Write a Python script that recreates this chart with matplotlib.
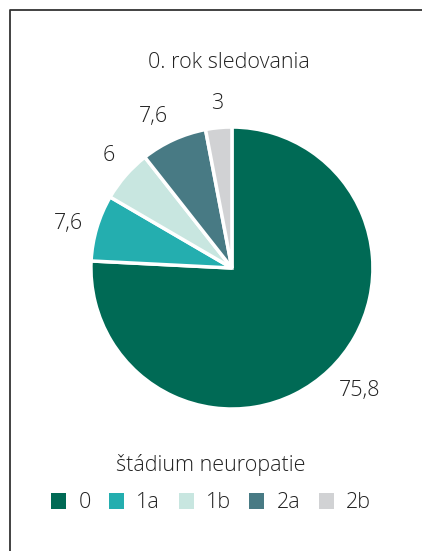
import matplotlib
matplotlib.use('Agg')
import matplotlib.pyplot as plt
import numpy as np
from matplotlib.lines import Line2D
from matplotlib.patches import Patch

plt.rcParams['font.family'] = ['Open Sans', 'DejaVu Sans']

stages = ['0', '1a', '1b', '2a', '2b']
values = [75.8, 7.6, 6, 7.6, 3]
value_labels = ['75,8', '7,6', '6', '7,6', '3']
colors = ['#006a55', '#24aeaf', '#c8e6e0', '#487a84', '#d1d2d4']

fs = 15.5
txt_color = '#222222'

fig = plt.figure(figsize=(4.22, 5.51), dpi=100)
ax = fig.add_axes([0, 0, 1, 1])

wedges, texts = ax.pie(values, colors=colors, startangle=90, counterclock=False,
                       labels=value_labels, labeldistance=1.1,
                       wedgeprops=dict(edgecolor='white', linewidth=2.5),
                       textprops=dict(fontsize=fs, color=txt_color, fontweight='light'))

# anchor each label by its nearest corner, like "outside end" labels
for w, t in zip(wedges, texts):
    ang = np.deg2rad((w.theta1 + w.theta2) / 2)
    c, s = np.cos(ang), np.sin(ang)
    t.set_ha('left' if c > 0.3 else ('right' if c < -0.3 else 'center'))
    t.set_va('bottom' if s > 0.3 else ('top' if s < -0.3 else 'center'))

ax.set_xlim(-1.645, 1.348)
ax.set_ylim(-2.007, 1.901)
ax.set_aspect('equal')
ax.axis('off')

fig.text(229 / 422, 1 - 62 / 551, '0. rok sledovania', ha='center', va='center',
         fontsize=fs, color=txt_color, fontweight='light')

fig.text(0.5, 1 - 465 / 551, 'štádium neuropatie', ha='center', va='center',
         fontsize=fs, color=txt_color, fontweight='light')

handles = [Patch(facecolor=c, edgecolor='none') for c in colors]
leg = fig.legend(handles, stages, loc='center', bbox_to_anchor=(0.5, 1 - 503 / 551),
                 ncol=5, frameon=False, prop=dict(size=fs, weight='light'),
                 handlelength=0.7, handleheight=0.7, borderpad=0,
                 columnspacing=0.86, handletextpad=0.56, labelcolor=txt_color)

# frame (left and top only)
fig.add_artist(Line2D([10 / 422, 10 / 422, 1], [0, 1 - 10 / 551, 1 - 10 / 551],
                      transform=fig.transFigure, color='#333333', linewidth=1.3))

fig.savefig('out.png', dpi=100)
